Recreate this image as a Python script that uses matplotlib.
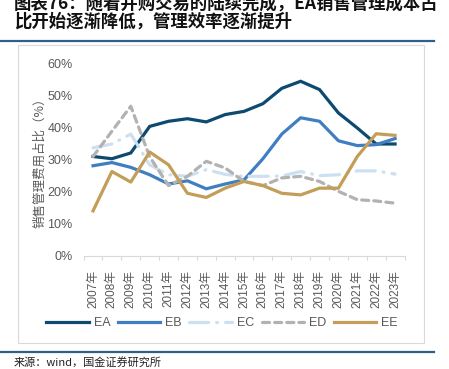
import matplotlib
matplotlib.use("Agg")
import matplotlib.pyplot as plt
from matplotlib.lines import Line2D

plt.rcParams['font.family'] = ['Liberation Sans', 'Noto Sans CJK SC', 'DejaVu Sans']

years = [str(y) + "年" for y in range(2007, 2024)]
EA = [31.1, 30.4, 32.2, 40.5, 42.1, 42.9, 41.9, 44.2, 45.2, 47.6, 52.4, 54.6, 52.0, 44.7, 40.0, 35.0, 35.0]
EB = [28.2, 29.2, 27.7, 25.4, 22.5, 23.5, 21.0, 22.5, 23.8, 30.4, 38.1, 43.2, 42.1, 36.0, 34.5, 34.8, 36.7]
EC = [33.8, 35.0, 38.1, 28.5, 25.4, 24.9, 27.0, 25.5, 24.9, 24.9, 25.0, 26.4, 25.1, 25.4, 26.6, 26.6, 25.6]
ED = [31.1, 39.0, 46.8, 31.0, 22.0, 24.9, 29.6, 27.5, 23.3, 22.0, 24.4, 24.9, 23.3, 20.2, 17.6, 17.2, 16.5]
EE = [14.1, 26.4, 23.1, 32.5, 28.5, 19.6, 18.3, 21.2, 23.3, 22.0, 19.6, 19.1, 21.2, 21.2, 31.1, 38.2, 37.7]
yticks = [0, 10, 20, 30, 40, 50, 60]

W, H = 449, 369
fig = plt.figure(figsize=(W / 100, H / 100), dpi=100)

def fx(x):
    return x / W

def fy(y):
    return 1 - y / H

# title
fig.text(fx(14), fy(4), "图表76：随着并购交易的陆续完成，EA销售管理成本占", fontsize=12.5,
         fontweight='bold', style='italic', family=['Noto Sans CJK SC'], va='center', ha='left', color='#111111')
fig.text(fx(14), fy(22), "比开始逐渐降低，管理效率逐渐提升", fontsize=12.5,
         fontweight='bold', style='italic', family=['Noto Sans CJK SC'], va='center', ha='left', color='#111111')

# rules
fig.add_artist(Line2D([0, fx(434)], [fy(41), fy(41)], color='#2f5f8c', lw=1.6))
fig.add_artist(Line2D([0, fx(434)], [fy(352), fy(352)], color='#2f5f8c', lw=1.6))
# chart box
fig.add_artist(plt.Rectangle((fx(18), fy(343)), fx(424) - fx(18), fy(45) - fy(343),
                             fill=False, edgecolor='#d9d9d9', lw=0.8))

fig.text(fx(14), fy(362), "来源：wind，国金证券研究所", fontsize=8, family=['Noto Sans CJK SC'],
         va='center', ha='left', color='#222222')

ax = fig.add_axes([fx(83.6), fy(256), fx(404.5) - fx(83.6), fy(64) - fy(256)])
x = list(range(len(years)))
lw = 2.3
ax.plot(x, EA, color='#0c4a70', lw=lw, label='EA', solid_joinstyle='miter')
ax.plot(x, EB, color='#3f7fc1', lw=lw, label='EB')
ax.plot(x, EC, color='#cde0f2', lw=lw, label='EC', linestyle=(0, (6, 2.5, 0.3, 2.5)),
        dash_capstyle='round')
ax.plot(x, ED, color='#b2b2b2', lw=lw, label='ED', linestyle=(0, (2.2, 1.6)), dash_capstyle='round')
ax.plot(x, EE, color='#c29e58', lw=lw, label='EE')

ax.set_xlim(-0.5, len(years) - 0.5)
ax.set_ylim(0, 60)
ax.set_yticks(yticks)
ax.set_yticklabels([f"{v}%" for v in yticks])
ax.set_xticks(x)
ax.set_xticklabels(years, rotation=90)
ax.set_xticks([i - 0.5 for i in range(len(years) + 1)], minor=True)
ax.tick_params(axis='x', which='major', length=0, pad=10, labelsize=8.5, colors='#595959')
ax.tick_params(axis='x', which='minor', length=3, color='#d9d9d9', width=0.8, direction='out')
ax.tick_params(axis='y', length=0, pad=8, labelsize=9, colors='#595959')
for s in ['top', 'right', 'left']:
    ax.spines[s].set_visible(False)
ax.spines['bottom'].set_color('#d9d9d9')
ax.spines['bottom'].set_linewidth(0.8)

fig.text(fx(40), fy(160), "销售管理费用占比（%）", rotation=90, fontsize=9, color='#595959',
         family=['Noto Sans CJK SC'], va='center', ha='center')

leg = fig.legend(*ax.get_legend_handles_labels(), loc='center', bbox_to_anchor=(fx(222), fy(323)),
                 ncol=5, frameon=False, fontsize=9, handlelength=3.4, columnspacing=0.6,
                 handletextpad=0.4, labelcolor='#595959')

fig.savefig("out.png", dpi=100)
